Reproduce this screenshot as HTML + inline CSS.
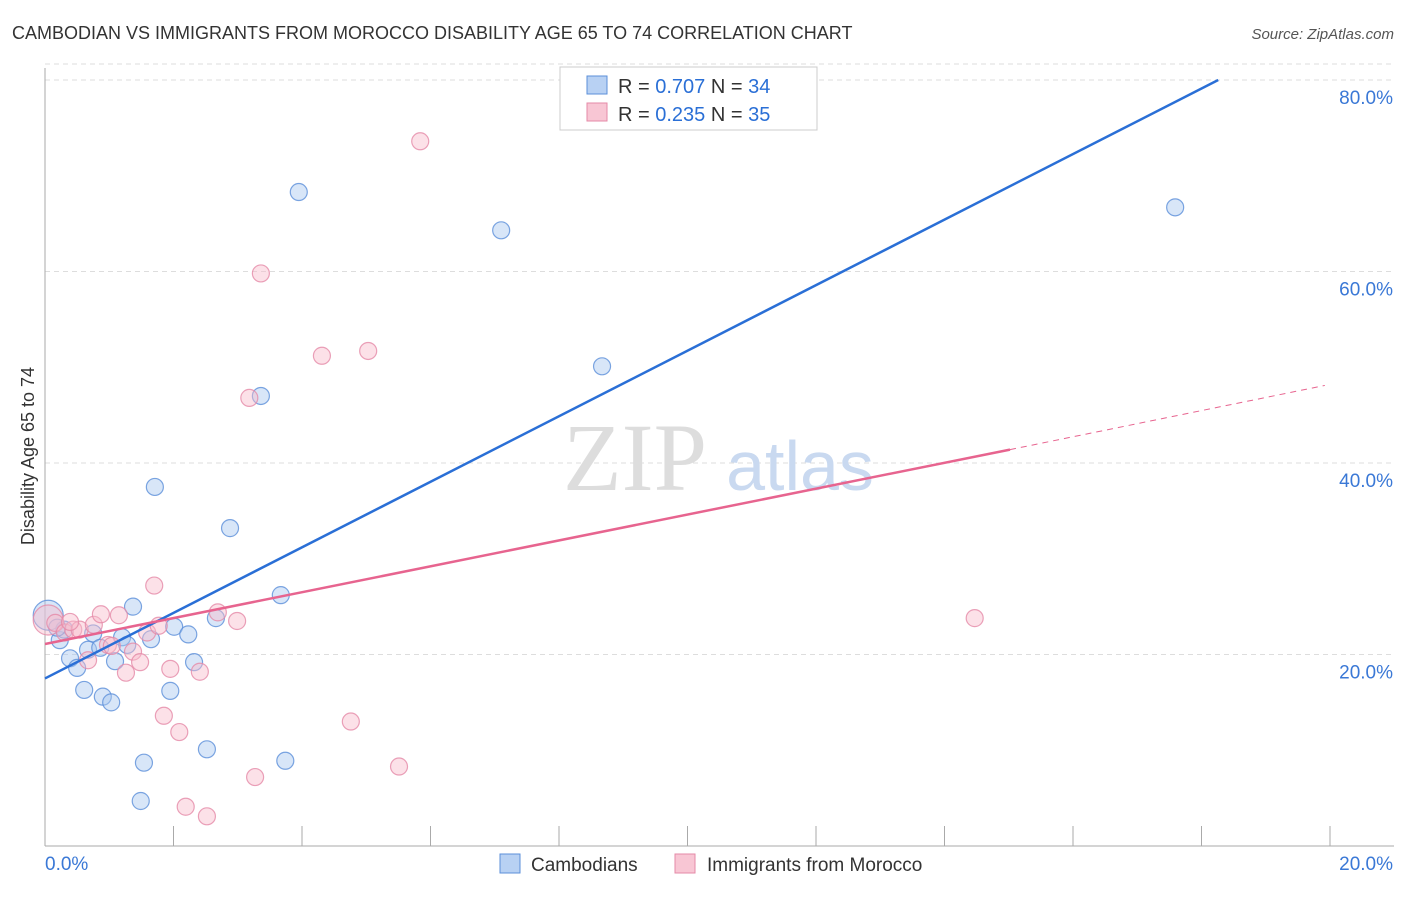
<!DOCTYPE html>
<html><head><meta charset="utf-8"><style>
body{margin:0;background:#fff;font-family:"Liberation Sans",sans-serif}
</style></head><body>
<svg width="1406" height="892" viewBox="0 0 1406 892" xmlns="http://www.w3.org/2000/svg">
<text x="12" y="39" font-size="18" fill="#333">CAMBODIAN VS IMMIGRANTS FROM MOROCCO DISABILITY AGE 65 TO 74 CORRELATION CHART</text>
<text x="1394" y="39" font-size="15" fill="#555" font-style="italic" text-anchor="end">Source: ZipAtlas.com</text>
<text x="34" y="456" font-size="18" fill="#333" text-anchor="middle" transform="rotate(-90 34 456)">Disability Age 65 to 74</text>
<g id="grid"></g>
<g><text x="635" y="490" font-size="96" fill="#ddd" font-family="Liberation Serif" text-anchor="middle">ZIP</text><text x="800" y="490" font-size="70" fill="#c9d9f0" text-anchor="middle">atlas</text></g>
<g id="pts"></g>
<g id="lines"></g>
<g>
<rect x="560" y="67" width="257" height="63" fill="#fff" stroke="#ccc"/>
<rect x="587" y="76" width="20" height="18" fill="#b8d1f3" stroke="#5b8fd9"/>
<rect x="587" y="103" width="20" height="18" fill="#f8c6d4" stroke="#e58aa7"/>
<text x="618" y="93" font-size="20" fill="#333">R = <tspan fill="#2a6fd6">0.707</tspan>   N = <tspan fill="#2a6fd6">34</tspan></text>
<text x="618" y="121" font-size="20" fill="#333">R = <tspan fill="#2a6fd6">0.235</tspan>   N = <tspan fill="#2a6fd6">35</tspan></text>
</g>
<g>
<rect x="500" y="854" width="20" height="19" fill="#b8d1f3" stroke="#5b8fd9"/>
<text x="531" y="871" font-size="19" fill="#333">Cambodians</text>
<rect x="675" y="854" width="20" height="19" fill="#f8c6d4" stroke="#e58aa7"/>
<text x="707" y="871" font-size="19" fill="#333">Immigrants from Morocco</text>
</g>
</svg>
<script>
const yTicks=[20,40,60,80];
const yTickLabels=["20.0%","40.0%","60.0%","80.0%"];
const xTickLabels=["0.0%","20.0%"];
const blueX=[0.05,0.23,0.39,0.50,0.61,0.75,0.67,0.86,0.90,1.03,1.09,1.20,1.28,1.37,1.54,1.49,1.65,1.71,1.95,2.01,2.23,2.32,2.52,2.66,2.88,3.36,3.67,3.74,3.95,7.10,8.67,17.59,0.30,0.19];
const blueY=[24.1,21.5,19.6,18.6,16.3,22.2,20.5,20.7,15.6,15.0,19.3,21.8,21.0,25.0,8.7,4.7,21.6,37.5,16.2,22.9,22.1,19.2,10.1,23.8,33.2,47.0,26.2,8.9,68.3,64.3,50.1,66.7,22.6,22.8];
const pinkX=[0.05,0.16,0.31,0.44,0.54,0.67,0.76,0.87,0.98,1.15,1.26,1.37,1.48,1.59,1.70,1.77,1.85,1.95,2.09,2.19,2.41,2.52,2.69,2.99,3.18,3.27,3.36,4.31,4.76,5.03,5.51,5.84,14.47,1.04,0.39];
const pinkY=[23.6,23.3,22.3,22.6,22.6,19.4,23.1,24.2,21.0,24.1,18.1,20.3,19.2,22.3,27.2,23.0,13.6,18.5,11.9,4.1,18.2,3.1,24.4,23.5,46.8,7.2,59.8,51.2,13.0,51.7,8.3,73.6,23.8,20.9,23.4];
const blueLine=[[0,17.5],[18.26,80.0]];
const pinkLine=[[0,21.1],[15.02,41.4]];
const pinkDash=[[15.02,41.4],[19.92,48.1]];
const NS="http://www.w3.org/2000/svg";
const X=v=>45+v*64.25, Y=v=>846-v*9.575;
function mk(t,a,p){const e=document.createElementNS(NS,t);for(const k in a)e.setAttribute(k,a[k]);p.appendChild(e);return e;}
const g=document.getElementById('grid');
yTicks.forEach((t,i)=>{
 const l=mk('line',{x1:45,x2:1394,y1:Y(t),y2:Y(t),stroke:'#ddd','stroke-dasharray':'5,4'},g);
 
 
 const tx=mk('text',{x:1393,y:Y(t)+24,'font-size':19,fill:'#3a78d6','text-anchor':'end'},g);
 tx.textContent=yTickLabels[i];
 
 
});
mk('line',{x1:45,x2:1394,y1:Y(80)-16,y2:Y(80)-16,stroke:'#ddd','stroke-dasharray':'5,4'},g);
mk('line',{x1:45,x2:45,y1:68,y2:846,stroke:'#aaa'},g);
mk('line',{x1:45,x2:1394,y1:846,y2:846,stroke:'#aaa'},g);
for(let i=0;i<=10;i++){mk('line',{x1:X(i*2),x2:X(i*2),y1:826,y2:846,stroke:'#aaa'},g);}
xTickLabels.forEach((s,i)=>{
 const tx=mk('text',{x:i?1393:45,y:870,'font-size':19,fill:'#3a78d6','text-anchor':i?'end':'start'},g);
 tx.textContent=s;
 
 
});
const P=document.getElementById('pts');
function dots(xs,ys,fill,stroke,name){xs.forEach((x,i)=>{
 const c=mk('circle',{cx:X(x),cy:Y(ys[i]),r:(i===0?15:8.5),fill:fill,'fill-opacity':0.45,stroke:stroke,'stroke-opacity':0.8,'stroke-width':1.2},P);
 
 
});}
dots(blueX,blueY,'#a9c7f0','#5b8fd9','cambodian-point');
dots(pinkX,pinkY,'#f8bccd','#e58aa7','morocco-point');
const L=document.getElementById('lines');
function ln(p,col,name,dash){const l=mk('line',{x1:X(p[0][0]),y1:Y(p[0][1]),x2:X(p[1][0]),y2:Y(p[1][1]),stroke:col,'stroke-width':dash?1:2.5},L);
 if(dash)l.setAttribute('stroke-dasharray','6,5');
 
 }
ln(blueLine,'#2a6fd6','cambodian-trendline');
ln(pinkLine,'#e7648f','morocco-trendline');
ln(pinkDash,'#e7648f','morocco-trendline-extension',true);
</script>
</body></html>
